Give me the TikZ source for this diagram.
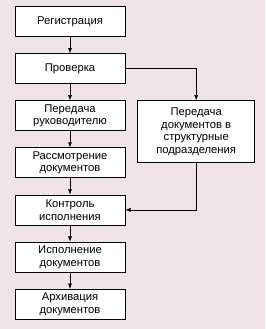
\documentclass[tikz,border=0pt]{standalone}
\usepackage{fontspec}
\setmainfont{Liberation Sans}
\usetikzlibrary{positioning,arrows.meta}
\definecolor{bgpink}{HTML}{F0E4E8}
\begin{document}
\begin{tikzpicture}[>={Latex[length=1.3mm,width=1mm]},
			node distance=0.41cm,
			box/.style={
				draw,
				fill=white,
				line width=0.5pt,
				minimum width=2.75cm,
				minimum height=0.75cm,
				inner sep=1pt,
				align=center,
				font=\fontsize{8}{9}\selectfont
			},
			sidebox/.style={
				box,
				minimum width=2.925cm,
				minimum height=1.55cm
			}]
			
			\fill[bgpink](0,0) rectangle (6.625,-8.225);
			\useasboundingbox (0,0) rectangle (6.625,-8.225);
			
			\node(reg)[box] at (1.75,-0.5375){Регистрация};
			
			\node(prov)[box,below=of reg]{Проверка};
			
			\node(ruk)[box,below=of prov]{Передача\\руководителю};
			
			\node(rass)[box,below=of ruk]{Рассмотрение\\документов};
			
			\node(kontr)[box,below=of rass]{Контроль\\исполнения};
			
			\node(isp)[box,below=of kontr]{Исполнение\\документов};
			
			\node(arh)[box,below=of isp]{Архивация\\документов};
			
			\node(podr)[sidebox,right=0.3cm of ruk.north east,anchor=north west]{Передача\\документов в\\структурные\\подразделения};
			
			\draw[->](reg)--(prov);
			
			\draw[->](prov)--(ruk);
			
			\draw[->](ruk)--(rass);
			
			\draw[->](rass)--(kontr);
			
			\draw[->](kontr)--(isp);
			
			\draw[->](isp)--(arh);
			
			\draw[->](prov.east)-|(podr.north);
			
			\draw[->](podr.south)|-(kontr.east);
			
		\end{tikzpicture}
\end{document}
